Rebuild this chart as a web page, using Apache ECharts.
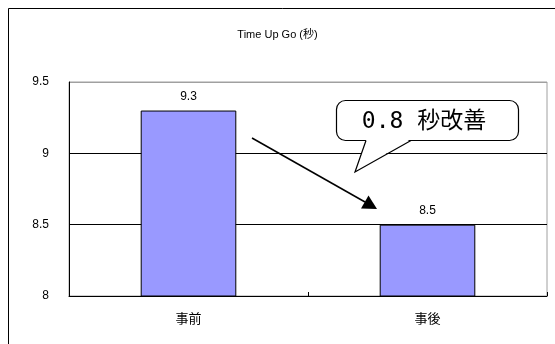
<!DOCTYPE html>
<html>
<head>
<meta charset="utf-8">
<script src="https://cdn.jsdelivr.net/npm/echarts@6/dist/echarts.min.js"></script>
<style>
  html, body { margin: 0; padding: 0; background: #fff; }
  #chart { width: 555px; height: 344px; }
</style>
</head>
<body>
<div id="chart"></div>
<script>
// data
var categories = ['事前', '事後'];
var seconds = [9.3, 8.5];
var titleText = 'Time Up Go (秒)';
var noteText = '0.8 秒改善';

var chart = echarts.init(document.getElementById('chart'));

var option = {
    backgroundColor: '#fff',
    animation: false,
    textStyle: { fontFamily: 'Arial, "Liberation Sans", "Noto Sans CJK JP", sans-serif' },
    title: {
        text: titleText,
        left: 'center',
        top: 24,
        textStyle: { fontSize: 11, fontWeight: 'normal', color: '#000' }
    },
    grid: {
        left: 69, right: 8, top: 82, bottom: 48,
        show: true,
        borderColor: '#a0a0a0',
        borderWidth: 1
    },
    xAxis: {
        type: 'category',
        data: categories,
        axisLine: { lineStyle: { color: '#000', width: 1 } },
        axisTick: { show: true, inside: true, length: 4, lineStyle: { color: '#000' } },
        axisLabel: {
            color: '#000', fontSize: 13, margin: 16,
            fontFamily: '"Noto Sans CJK JP", sans-serif'
        }
    },
    yAxis: {
        type: 'value',
        min: 8,
        max: 9.5,
        interval: 0.5,
        axisLine: { show: true, lineStyle: { color: '#000', width: 1 } },
        axisTick: { show: false },
        axisLabel: { color: '#000', fontSize: 12, margin: 20 },
        splitLine: { lineStyle: { color: ['#000', '#000', '#000', '#a0a0a0'], width: 1 } }
    },
    series: [{
        type: 'bar',
        data: seconds,
        barWidth: '40%',
        itemStyle: { color: '#9999ff', borderColor: '#000', borderWidth: 1 },
        label: { show: true, position: 'top', distance: 8, color: '#000', fontSize: 12 }
    }],
    graphic: [
        {   // outer chart frame
            type: 'rect',
            silent: true,
            shape: { x: 8.5, y: 8.5, width: 560, height: 360 },
            style: { fill: null, stroke: '#000', lineWidth: 1 },
            z: 0
        },
        {   // arrow shaft
            type: 'line',
            silent: true,
            shape: { x1: 252, y1: 138, x2: 365, y2: 202 },
            style: { stroke: '#000', lineWidth: 1.5 },
            z: 100
        },
        {   // arrow head
            type: 'polygon',
            silent: true,
            shape: { points: [[377, 209], [361, 208.5], [368.5, 195.5]] },
            style: { fill: '#000' },
            z: 100
        },
        {   // callout box
            type: 'rect',
            silent: true,
            shape: { x: 336.5, y: 100.5, width: 182, height: 40, r: 9 },
            style: { fill: '#fff', stroke: '#000', lineWidth: 1.2 },
            z: 100
        },
        {   // callout tail fill (hides the box edge under the tail)
            type: 'polygon',
            silent: true,
            shape: { points: [[366.5, 139], [355, 172], [411, 139]] },
            style: { fill: '#fff' },
            z: 101
        },
        {   // callout tail edges
            type: 'polyline',
            silent: true,
            shape: { points: [[366, 140.5], [355, 172], [411, 140.5]] },
            style: { stroke: '#000', lineWidth: 1.2, fill: null },
            z: 102
        },
        {
            type: 'text',
            silent: true,
            x: 424,
            y: 122,
            style: {
                text: noteText,
                fill: '#000',
                fontSize: 23,
                fontFamily: '"DejaVu Sans Mono", "Noto Sans CJK JP", monospace',
                align: 'center',
                verticalAlign: 'middle'
            },
            z: 103
        }
    ]
};
chart.setOption(option);
</script>
</body>
</html>
